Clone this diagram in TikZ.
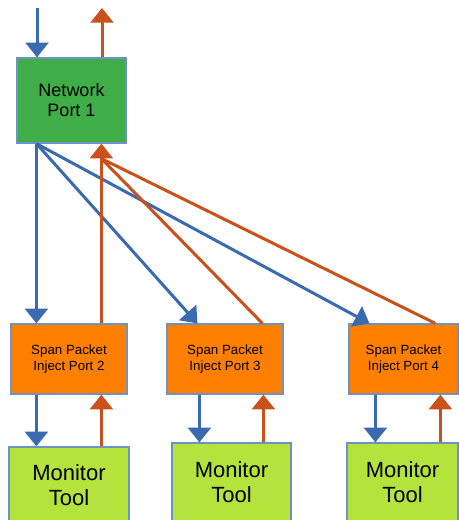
\documentclass[tikz,border=0pt]{standalone}
\usepackage{fontspec}
\setmainfont{Liberation Sans}
\usetikzlibrary{arrows.meta,calc}
\definecolor{arrblue}{HTML}{3A6BB0}
\definecolor{arrorange}{HTML}{C9521C}
\definecolor{npgreen}{HTML}{3FAE49}
\definecolor{spanorange}{HTML}{FF8000}
\definecolor{toolgreen}{HTML}{B5E33D}
\definecolor{boxedge}{HTML}{6F92C4}
\begin{document}
\begin{tikzpicture}[x=0.75pt,y=-0.75pt,
  box/.style={draw=boxedge,line width=0.9pt,rectangle,align=center,inner sep=0pt,text=black},
  npbox/.style={box,fill=npgreen,font=\fontsize{13.5}{15}\selectfont},
  spanbox/.style={box,fill=spanorange,font=\fontsize{10}{12}\selectfont},
  toolbox/.style={box,fill=toolgreen,font=\fontsize{16.5}{19}\selectfont},
  barrow/.style={draw=arrblue,line width=2.25pt,-{Triangle[width=17pt,length=11pt]}},
  oarrow/.style={draw=arrorange,line width=2.25pt,-{Triangle[width=17pt,length=11pt]}},
  oline/.style={draw=arrorange,line width=2.25pt}]
\clip (0,0) rectangle (459,520);
\fill[white] (0,0) rectangle (459,520);
% nodes
\node[npbox,minimum width=109*0.75pt,minimum height=85*0.75pt] (np1) at (71.5,100.5) {Network\\Port 1};
\node[spanbox,minimum width=116*0.75pt,minimum height=70*0.75pt] (p2) at (69,359) {Span Packet\\Inject Port 2};
\node[spanbox,minimum width=116*0.75pt,minimum height=70*0.75pt] (p3) at (225,359) {Span Packet\\Inject Port 3};
\node[spanbox,minimum width=109*0.75pt,minimum height=70*0.75pt] (p4) at (403.5,359) {Span Packet\\Inject Port 4};
\node[toolbox,minimum width=120*0.75pt,minimum height=76*0.75pt] (mt1) at (69,485) {Monitor\\Tool};
\node[toolbox,minimum width=119*0.75pt,minimum height=78*0.75pt] (mt2) at (231.5,482) {Monitor\\Tool};
\node[toolbox,minimum width=111*0.75pt,minimum height=78*0.75pt] (mt3) at (402.5,482) {Monitor\\Tool};
\coordinate (in1) at (37,8);
\coordinate (out1) at (102,8);
\coordinate (join) at ($(np1.south west)+(85,15)$);
% top connectors
\draw[barrow] (in1) -- (in1 |- np1.north);
\draw[oarrow] (out1 |- np1.north) -- (out1);
% fan-out (blue) from Network Port 1
\draw[barrow] ($(np1.south west)+(20,0)$) -- ($(p2.north west)+(26,0)$);
\draw[barrow] ($(np1.south west)+(20,0)$) -- ($(p3.north west)+(31,0)$);
\draw[barrow] ($(np1.south west)+(20,0)$) -- ($(p4.north west)+(21,0)$);
% fan-in (orange) to Network Port 1
\draw[oline] ($(p3.north west)+(96,0)$) -- (join);
\draw[oline] ($(p4.north west)+(87,0)$) -- (join);
\draw[oarrow] ($(p2.north west)+(91,0)$) -- ($(np1.south west)+(85,0)$);
% span ports to monitor tools
\draw[barrow] ($(p2.south west)+(26,0)$) coordinate (t2b) -- (t2b |- mt1.north);
\draw[oarrow] ($(p2.south west)+(91,0)$) coordinate (t2o) (t2o |- mt1.north) -- (t2o);
\draw[barrow] ($(p3.south west)+(33,0)$) coordinate (t3b) -- (t3b |- mt2.north);
\draw[oarrow] ($(p3.south west)+(97,0)$) coordinate (t3o) (t3o |- mt2.north) -- (t3o);
\draw[barrow] ($(p4.south west)+(27,0)$) coordinate (t4b) -- (t4b |- mt3.north);
\draw[oarrow] ($(p4.south west)+(92,0)$) coordinate (t4o) (t4o |- mt3.north) -- (t4o);
\end{tikzpicture}
\end{document}
